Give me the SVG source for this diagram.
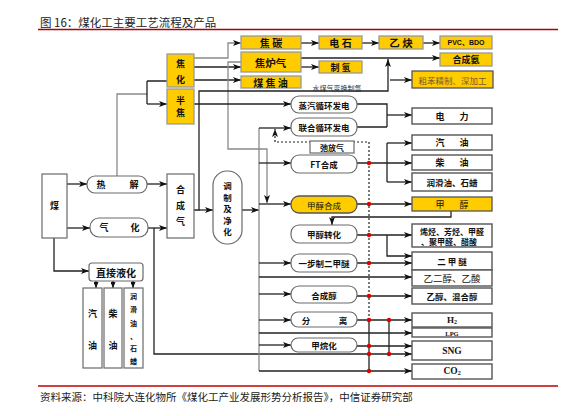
<svg xmlns="http://www.w3.org/2000/svg" width="577" height="416" viewBox="0 0 577 416">
<defs>
<marker id="ah" markerWidth="8" markerHeight="6" refX="8" refY="3" orient="auto" markerUnits="userSpaceOnUse">
<path d="M0,0 L8,3 L0,6 L2,3 z" fill="#111"/>
</marker>
<marker id="ahs" markerWidth="6" markerHeight="5" refX="6" refY="2.5" orient="auto" markerUnits="userSpaceOnUse">
<path d="M0,0 L6,2.5 L0,5 z" fill="#111"/>
</marker>
</defs>
<style>
.t{font-family:"Noto Sans CJK SC","Noto Sans",sans-serif;font-size:9px;font-weight:bold;text-anchor:middle;dominant-baseline:central;fill:#111}
.tr{font-family:"Liberation Serif",serif;font-weight:bold;text-anchor:middle;dominant-baseline:central;fill:#111}
.y{fill:#FFCC00;stroke:#9a9a9a;stroke-width:1.3}
.w{fill:#fff;stroke:#6a6a6a;stroke-width:1.2}
.p{fill:#fff;stroke:#555;stroke-width:1.4}
.l{fill:none;stroke:#222;stroke-width:1.3}
.g{fill:none;stroke:#8a8a8a;stroke-width:1.3}
.a{marker-end:url(#ah)}
.as{marker-end:url(#ahs)}
.dot{fill:#e00000}
.cap{font-family:"Noto Sans CJK SC","Noto Sans",sans-serif;font-size:11px;fill:#222}
</style>
<rect width="577" height="416" fill="#fff"/>
<text class="cap" x="40" y="27" style="font-size:11.5px">图 16：煤化工主要工艺流程及产品</text>
<line x1="38" y1="29.5" x2="558" y2="29.5" stroke="#b00000" stroke-width="1.5"/>
<line x1="38" y1="386" x2="558" y2="386" stroke="#c00000" stroke-width="1.5"/>
<text class="cap" x="40" y="401" style="font-size:10.5px">资料来源：中科院大连化物所《煤化工产业发展形势分析报告》，中信证券研究部</text>

<g id="connectors">
<path class="g a" d="M194,58 H228 V43 H241"/>
<path class="l a" d="M194,67 H241"/>
<path class="l a" d="M194,80 H241"/>
<path class="g a" d="M241,62 H228 V149 H267 V203"/>
<path class="l a" d="M301,43 H319"/>
<path class="l a" d="M362,43 H379"/>
<path class="l a" d="M423,43 H440"/>
<path class="l a" d="M300,58 H440"/>
<path class="l a" d="M300,67 H319"/>
<path class="l a" d="M194,210 H199 V91 H388 V59"/>
<path class="l a" d="M390,80 H412"/>
<path class="g" d="M117,176 V94 H147"/>
<path class="l" d="M147,81 V104 M147,81 H167"/>
<path class="l a" d="M147,104 H167"/>
<path class="l a" d="M194,104 H291"/>
<path class="l a" d="M67,184 H87"/>
<path class="l a" d="M67,228 H90"/>
<path class="l a" d="M147,184 H167"/>
<path class="l a" d="M148,228 H167"/>
<path class="l a" d="M154,228 V354 H412"/>
<path class="l a" d="M199,210 H213"/>
<path class="l a" d="M242,210 H259"/>
<path class="g" d="M259,128 V371"/>
<path class="l a" d="M259,371 H412"/>
<path class="l a" d="M259,128 H291"/>
<path class="l a" d="M259,163 H291"/>
<path class="l a" d="M259,204 H291"/>
<path class="l a" d="M259,263 H291"/>
<path class="l a" d="M259,277 H412"/>
<path class="l a" d="M259,294 H291"/>
<path class="l a" d="M259,320 H291"/>
<path class="l a" d="M259,333 H412"/>
<path class="l a" d="M259,345 H291"/>
<path class="l" d="M357,104 H387 V127 M357,127 H387"/>
<path class="l a" d="M387,115 H412"/>
<path class="l a" d="M357,163 H412"/>
<path class="l" d="M387,143 V182"/>
<path class="l a" d="M387,143 H412"/>
<path class="l a" d="M387,182 H412"/>
<path class="l a" d="M357,204 H412"/>
<path class="l a" d="M451,211 V217 H332 V225"/>
<path class="l a" d="M357,235 H412"/>
<path class="l a" d="M387,235 V256 H412"/>
<path class="l a" d="M357,263 H412"/>
<path class="l a" d="M357,296 H412"/>
<path class="l a" d="M357,320 H412"/>
<path class="l" d="M389,320 V354"/>
<path class="l a" d="M357,346 H412"/>
<path class="l" d="M369,320 V371"/>
<path class="a" d="M369,320 V142 H275 V129" fill="none" stroke="#222" stroke-width="1.2" stroke-dasharray="2,2"/>
<path class="l a" d="M54,238 V271 H89"/>
<path class="l as" d="M96,281 V288"/>
<path class="l as" d="M113,281 V288"/>
<path class="l as" d="M133,281 V288"/>
<circle class="dot" cx="369" cy="163" r="2.2"/>
<circle class="dot" cx="369" cy="204" r="2.2"/>
<circle class="dot" cx="369" cy="235" r="2.2"/>
<circle class="dot" cx="369" cy="263" r="2.2"/>
<circle class="dot" cx="369" cy="296" r="2.2"/>
<circle class="dot" cx="369" cy="320" r="2.2"/>
<circle class="dot" cx="389" cy="320" r="2.2"/>
<circle class="dot" cx="369" cy="346" r="2.2"/>
<circle class="dot" cx="369" cy="354" r="2.2"/>
<circle class="dot" cx="389" cy="354" r="2.2"/>
<circle class="dot" cx="369" cy="371" r="2.2"/>
<text x="337" y="88" style="font-family:'Noto Sans CJK SC',sans-serif;font-size:7px;text-anchor:middle;dominant-baseline:central;fill:#333">水煤气变换制氢</text>
</g>

<g id="jiaohua"><rect class="y" x="167" y="54" width="27" height="33"/><text class="t" x="180.5" y="63">焦</text><text class="t" x="180.5" y="79">化</text></g>
<g id="banjiao"><rect class="y" x="167" y="89" width="27" height="35"/><text class="t" x="180.5" y="100">半</text><text class="t" x="180.5" y="112">焦</text></g>
<g id="jiaotan"><rect class="y" x="241" y="36" width="60" height="13"/><text class="t" x="271" y="42.5" style="font-size:10px">焦 碳</text></g>
<g id="jiaoluqi"><rect class="y" x="241" y="52" width="60" height="20"/><text class="t" x="270.5" y="62" style="font-size:10.5px">焦炉气</text></g>
<g id="meijiaoyou"><rect class="y" x="241" y="76" width="60" height="12"/><text class="t" x="270.5" y="82" style="font-size:10px">煤 焦 油</text></g>
<g id="dianshi"><rect class="y" x="319" y="36" width="43" height="13"/><text class="t" x="340.5" y="42.5" style="font-size:10px">电 石</text></g>
<g id="yique"><rect class="y" x="379" y="36" width="44" height="13"/><text class="t" x="401" y="42.5" style="font-size:10.5px">乙 炔</text></g>
<g id="pvc"><rect class="y" x="440" y="36" width="52" height="13"/><text class="t" x="466" y="42.5" style="font-size:7px;font-family:'Liberation Sans','Noto Sans CJK SC',sans-serif">PVC、BDO</text></g>
<g id="hechengan"><rect class="y" x="440" y="53" width="52" height="13"/><text class="t" x="466" y="59.5">合成氨</text></g>
<g id="zhiqing"><rect class="y" x="319" y="61" width="43" height="12"/><text class="t" x="340.5" y="67">制 氢</text></g>
<g id="cuben"><rect class="y" x="412" y="71" width="81" height="17" style="stroke:#555"/><text class="t" x="452.5" y="79.5" style="font-weight:normal;fill:#7a5a2a;font-size:8.5px">粗苯精制、深加工</text></g>

<g id="mei"><rect class="w" x="42" y="174" width="25" height="64"/><text class="t" x="54.5" y="205">煤</text></g>
<g id="rejie"><rect class="w" x="87" y="176" width="60" height="17" rx="8"/><text class="t" x="101" y="184.5">热</text><text class="t" x="134" y="184.5">解</text></g>
<g id="qihua"><rect class="w" x="90" y="218" width="58" height="19" rx="9"/><text class="t" x="104" y="227.5">气</text><text class="t" x="135" y="227.5">化</text></g>
<g id="hechengqi"><rect class="w" x="167" y="174" width="27" height="64"/><text class="t" x="180.5" y="189">合</text><text class="t" x="180.5" y="205">成</text><text class="t" x="180.5" y="221">气</text></g>
<g id="tiaozhi"><rect class="w" x="213" y="171" width="29" height="73" rx="14"/><g style="font-size:8.5px"><text class="t" x="227.5" y="185" style="font-size:8.5px">调</text><text class="t" x="227.5" y="196.5" style="font-size:8.5px">制</text><text class="t" x="227.5" y="208" style="font-size:8.5px">及</text><text class="t" x="227.5" y="219.5" style="font-size:8.5px">净</text><text class="t" x="227.5" y="231" style="font-size:8.5px">化</text></g></g>
<g id="zhijieyehua"><rect class="w" x="89" y="263" width="54" height="18" rx="3"/><text class="t" x="116" y="272" style="font-size:10px">直接液化</text></g>
<g id="qiyou1"><rect class="w" x="83" y="288" width="19" height="80"/><text class="t" x="92.5" y="313">汽</text><text class="t" x="92.5" y="345">油</text></g>
<g id="chaiyou1"><rect class="w" x="104" y="288" width="18" height="80"/><text class="t" x="113" y="313">柴</text><text class="t" x="113" y="345">油</text></g>
<g id="runhua1"><rect class="w" x="124" y="288" width="19" height="80"/><text class="t" x="133.5" y="296" style="font-size:7px">润</text><text class="t" x="133.5" y="309" style="font-size:7px">滑</text><text class="t" x="133.5" y="323" style="font-size:7px">油</text><text class="t" x="133.5" y="336" style="font-size:7px">、</text><text class="t" x="133.5" y="348" style="font-size:7px">石</text><text class="t" x="133.5" y="361" style="font-size:7px">蜡</text></g>

<g id="zhengqi"><rect class="w" x="291" y="96" width="66" height="17" rx="8"/><text class="t" x="324" y="104.5" style="font-size:8.5px">蒸汽循环发电</text></g>
<g id="lianhe"><rect class="w" x="291" y="118" width="66" height="18" rx="8"/><text class="t" x="324" y="127" style="font-size:8.5px">联合循环发电</text></g>
<g id="chifangqi"><rect class="w" x="310" y="141" width="44" height="12"/><text class="t" x="332" y="147" style="font-size:8px">弛放气</text></g>
<g id="ft"><rect class="w" x="291" y="155" width="66" height="18" rx="8"/><text class="t" x="324" y="164" style="font-size:8.5px">FT合成</text></g>
<g id="jiachunhecheng"><rect class="y" x="291" y="196" width="66" height="17" rx="8" style="stroke:#555"/><text class="t" x="324" y="204.5" style="font-size:8.5px;font-weight:normal">甲醇合成</text></g>
<g id="jiachunzhuanhua"><rect class="w" x="291" y="225" width="66" height="18" rx="8"/><text class="t" x="324" y="234" style="font-size:8.5px">甲醇转化</text></g>
<g id="yibu"><rect class="w" x="291" y="254" width="66" height="18" rx="8"/><text class="t" x="324" y="263" style="font-size:8.5px">一步制二甲醚</text></g>
<g id="hechengchun"><rect class="w" x="291" y="286" width="66" height="17" rx="8"/><text class="t" x="324" y="294.5" style="font-size:8.5px">合成醇</text></g>
<g id="fenli"><rect class="w" x="291" y="312" width="66" height="15" rx="7"/><text class="t" x="306" y="319.5" style="font-size:8.5px">分</text><text class="t" x="343" y="319.5" style="font-size:8.5px">离</text></g>
<g id="jiawanhua"><rect class="w" x="291" y="338" width="66" height="14" rx="7"/><text class="t" x="324" y="345" style="font-size:8.5px">甲烷化</text></g>

<g id="dianli"><rect class="p" x="412" y="108" width="80" height="16"/><text class="t" x="440" y="116">电</text><text class="t" x="464" y="116">力</text></g>
<g id="qiyou"><rect class="p" x="412" y="135" width="80" height="15"/><text class="t" x="440" y="142.5">汽</text><text class="t" x="464" y="142.5">油</text></g>
<g id="chaiyou"><rect class="p" x="412" y="155" width="80" height="15"/><text class="t" x="440" y="162.5">柴</text><text class="t" x="464" y="162.5">油</text></g>
<g id="runhua"><rect class="p" x="412" y="173" width="80" height="18"/><text class="t" x="452" y="182" style="font-size:8.5px">润滑油、石蜡</text></g>
<g id="jiachun"><rect class="y" x="412" y="197" width="80" height="14" style="stroke:#555"/><text class="t" x="440" y="204" style="font-weight:normal">甲</text><text class="t" x="464" y="204" style="font-weight:normal">醇</text></g>
<g id="xiting"><rect class="p" x="412" y="224" width="80" height="23"/><text class="t" x="452" y="231" style="font-size:8px">烯烃、芳烃、甲醛</text><text class="t" x="449" y="241.5" style="font-size:8px">、聚甲醛、醋酸</text></g>
<g id="erjiami"><rect class="p" x="412" y="252" width="80" height="18"/><text class="t" x="452" y="261" style="font-size:8.5px">二 甲 醚</text></g>
<g id="yierchun"><rect class="p" x="412" y="270" width="80" height="16"/><text class="t" x="452" y="278" style="font-size:9.5px;font-weight:normal">乙二醇、乙酸</text></g>
<g id="yichun"><rect class="p" x="412" y="288" width="80" height="16"/><text class="t" x="452" y="296" style="font-size:8.5px">乙醇、混合醇</text></g>
<g id="h2"><rect class="p" x="412" y="313" width="80" height="14"/><text class="tr" x="452" y="319.5" style="font-size:9px">H<tspan dy="2" style="font-size:6px">2</tspan></text></g>
<g id="lpg"><rect class="p" x="412" y="328" width="80" height="9"/><text class="tr" x="452" y="333" style="font-size:6.5px">LPG</text></g>
<g id="sng"><rect class="p" x="412" y="341" width="80" height="19"/><text class="tr" x="452" y="350.5" style="font-size:9.5px">SNG</text></g>
<g id="co2"><rect class="p" x="412" y="364" width="80" height="15"/><text class="tr" x="452" y="371" style="font-size:9.5px">CO<tspan dy="2" style="font-size:6px">2</tspan></text></g>
</svg>
